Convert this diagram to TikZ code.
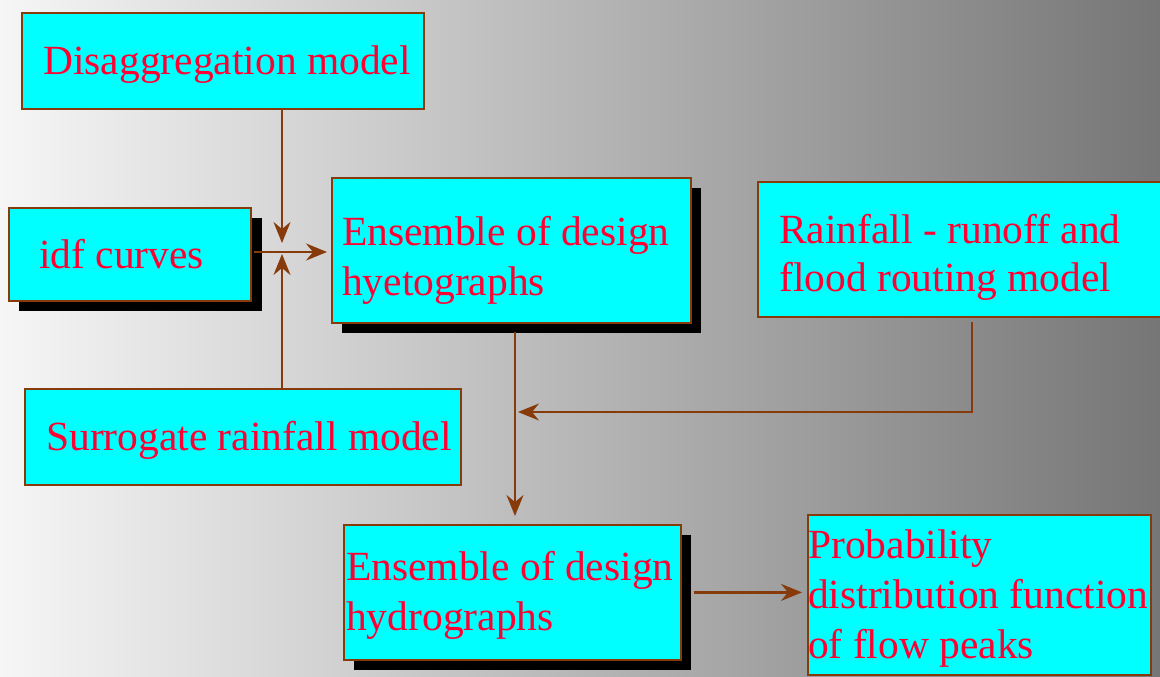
\documentclass[tikz,border=0pt]{standalone}
\usepackage{fontspec}
\setmainfont{Liberation Serif}
\usetikzlibrary{arrows.meta,calc}
\definecolor{boxfill}{RGB}{0,255,255}
\definecolor{edge}{RGB}{135,58,10}
\definecolor{txt}{RGB}{255,0,51}
\definecolor{bgl}{RGB}{246,246,246}
\definecolor{bgr}{RGB}{118,118,118}
\tikzset{
  box/.style={draw=edge, line width=1.8pt, fill=boxfill, inner sep=0pt},
  shadowbox/.style={fill=black},
  lbl/.style={anchor=base west, inner sep=0pt, text=txt, font=\fontsize{41.5}{50}\selectfont},
  arr/.style={draw=edge, line width=2.2pt, -{Stealth[length=21pt,width=17pt,inset=7pt]}},
}
\newcommand{\mkbox}[5]{%
  \node[box, minimum width=#4-#2, minimum height=#5-#3, anchor=north west] (#1) at (#2,#3) {};}
\begin{document}
\begin{tikzpicture}[x=1pt,y=-1pt]
\shade[left color=bgl, right color=bgr] (0,0) rectangle (1160,677);
\useasboundingbox (0,0) rectangle (1160,677);
% shadows
\fill[shadowbox] (19,218) rectangle (262,311);
\fill[shadowbox] (342,188) rectangle (701,333);
\fill[shadowbox] (354,535) rectangle (691,670);
% boxes
\mkbox{dis}{21}{12}{423}{108}
\mkbox{idf}{8}{207}{250}{300}
\mkbox{hye}{331}{177}{690}{322}
\mkbox{rr}{757}{181}{1162}{316}
\mkbox{sur}{24}{388}{460}{484}
\mkbox{hyd}{343}{524}{680}{659}
\mkbox{prob}{807}{514}{1150}{674}
% texts
\node[lbl] (tdis) at (43,75) {Disaggregation model};
\node[lbl] (tidf) at (39,268) {idf curves};
\node[lbl] (thye1) at (342,245) {Ensemble of design};
\node[lbl] (thye2) at (342,295) {hyetographs};
\node[lbl] (trr1) at (779,243) {Rainfall - runoff and};
\node[lbl] (trr2) at (779,291) {flood routing model};
\node[lbl] (tsur) at (46,450) {Surrogate rainfall model};
\node[lbl] (thyd1) at (346,580) {Ensemble of design};
\node[lbl] (thyd2) at (346,630) {hydrographs};
\node[lbl] (tp1) at (808,558) {Probability};
\node[lbl] (tp2) at (808,608) {distribution function};
\node[lbl] (tp3) at (808,658) {of flow peaks};
% junctions
\coordinate (j) at (282,252);
\coordinate (k) at (515,412);
\coordinate (r) at (972,412);
% connectors
\draw[arr] (dis.south -| j) -- ($(j)+(0,-9)$);
\draw[arr] (sur.north -| j) -- ($(j)+(0,2)$);
\draw[arr, shorten <=2pt, shorten >=4pt] (idf.east |- j) -- (hye.west |- j);
\draw[arr, shorten <=8pt, shorten >=8pt] (hye.south -| k) -- (hyd.north -| k);
\draw[arr, shorten <=4pt] (rr.south -| r) -- (r) -- ($(k)+(3,0)$);
\draw[arr, shorten <=12pt, shorten >=5pt] (hyd.east) -- (prob.west |- hyd.east);
\end{tikzpicture}
\end{document}
